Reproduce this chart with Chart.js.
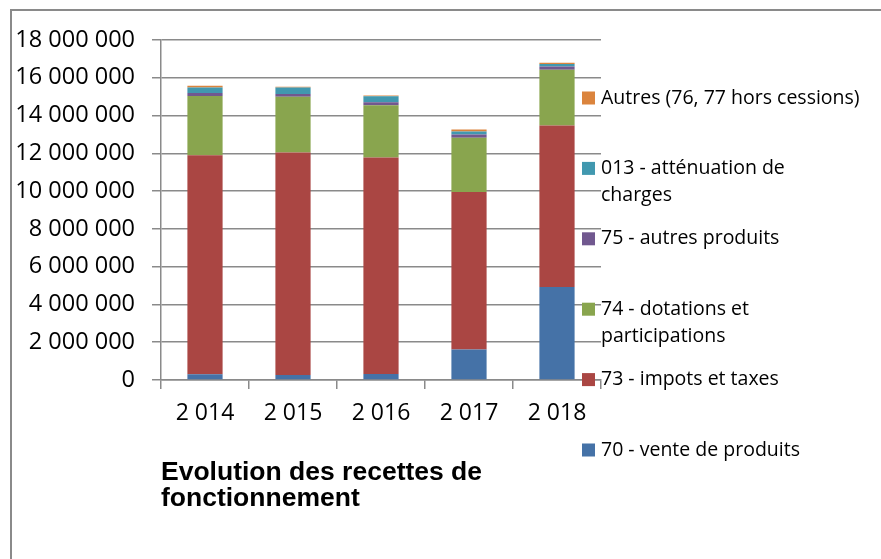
<!DOCTYPE html>
<html>
<head>
<meta charset="utf-8">
<script src="https://cdn.jsdelivr.net/npm/chart.js@4.4.1/dist/chart.umd.min.js"></script>
<style>
    html, body { margin: 0; padding: 0; background: #fff; overflow: hidden; }
    #wrap { position: relative; width: 881px; height: 559px; }
    #frame { position: absolute; left: 10px; top: 9px; width: 1000px; height: 1000px; border: 2px solid #8a8a8a; }
    #chart { position: absolute; left: 0; top: 0; }
</style>
</head>
<body>
<div id="wrap">
    <div id="frame"></div>
    <canvas id="chart" width="881" height="559"></canvas>
</div>
<script>
// Years and series (euros)
const years = ['2 014', '2 015', '2 016', '2 017', '2 018'];

const vente70 = [300000, 260000, 320000, 1620000, 4930000];
const impots73 = [11600000, 11780000, 11460000, 8330000, 8540000];
const dotations74 = [3140000, 2960000, 2760000, 2870000, 2960000];
const autresProduits75 = [160000, 140000, 160000, 180000, 170000];
const attenuation013 = [290000, 340000, 320000, 150000, 130000];
const autres7677 = [90000, 50000, 40000, 110000, 70000];

const seriesLabels = [
    ['70 - vente de produits'],
    ['73 - impots et taxes'],
    ['74 - dotations et', 'participations'],
    ['75 - autres produits'],
    ['013 - atténuation de', 'charges'],
    ['Autres (76, 77 hors cessions)']
];
const seriesColors = ['#4572A7', '#AA4643', '#89A54E', '#71588F', '#4198AF', '#DB843D'];

const yMax = 18000000;
const yStep = 2000000;
const chartTitle = ['Evolution des recettes de', 'fonctionnement'];

const gridColor = '#8a8a8a';

function fmtNum(v) {
    return String(v).replace(/\B(?=(\d{3})+(?!\d))/g, ' ');
}

// Legend on the right, reversed, with wrapped labels
const sideLegend = {
    id: 'sideLegend',
    afterDraw(chart) {
        const ctx = chart.ctx;
        const area = chart.chartArea;
        const n = chart.data.datasets.length;
        const x0 = area.right - 19;
        const y0 = area.top + 58;
        const slot = 70.4;
        ctx.save();
        ctx.font = '19.5px "Open Sans"';
        ctx.textBaseline = 'middle';
        ctx.textAlign = 'left';
        for (let i = n - 1; i >= 0; i--) {
            const ds = chart.data.datasets[i];
            const y = y0 + (n - 1 - i) * slot;
            ctx.fillStyle = ds.backgroundColor;
            ctx.fillRect(x0, y - 6.5, 13, 13);
            ctx.fillStyle = '#000';
            ds.legendLines.forEach((line, k) => {
                ctx.fillText(line, x0 + 19, y + k * 27.5);
            });
        }
        ctx.restore();
    }
};

// Title under the x axis, left aligned
const bottomTitle = {
    id: 'bottomTitle',
    afterDraw(chart) {
        const ctx = chart.ctx;
        const area = chart.chartArea;
        ctx.save();
        ctx.font = 'bold 26.5px "Liberation Sans"';
        ctx.fillStyle = '#000';
        ctx.textBaseline = 'middle';
        ctx.textAlign = 'left';
        chartTitle.forEach((line, k) => {
            ctx.fillText(line, area.left, area.bottom + 93 + k * 26);
        });
        ctx.restore();
    }
};

const seriesData = [vente70, impots73, dotations74, autresProduits75, attenuation013, autres7677];

const datasets = seriesData.map((data, i) => ({
    label: seriesLabels[i].join(' '),
    legendLines: seriesLabels[i],
    data: data,
    backgroundColor: seriesColors[i],
    borderWidth: 0,
    categoryPercentage: 1.0,
    barPercentage: 0.4
}));

new Chart(document.getElementById('chart'), {
    type: 'bar',
    data: { labels: years, datasets: datasets },
    options: {
        responsive: false,
        animation: false,
        layout: { padding: { left: 0, top: 40, right: 280, bottom: 0 } },
        plugins: {
            legend: { display: false },
            title: { display: false },
            tooltip: { enabled: false }
        },
        scales: {
            x: {
                stacked: true,
                grid: { drawOnChartArea: false, drawTicks: true, tickLength: 9, color: gridColor, lineWidth: 1.5 },
                border: { color: gridColor, width: 1.5 },
                ticks: { color: '#000', font: { family: 'Open Sans', size: 23 }, padding: 11, maxRotation: 0 },
                afterFit(scale) { scale.height = 179; }
            },
            y: {
                stacked: true,
                min: 0,
                max: yMax,
                grid: { color: gridColor, lineWidth: 1.5, tickLength: 9 },
                border: { color: gridColor, width: 1.5 },
                ticks: {
                    stepSize: yStep,
                    color: '#000',
                    font: { family: 'Open Sans', size: 23.5 },
                    padding: 17,
                    callback: v => fmtNum(v)
                },
                afterFit(scale) { scale.width = 161; }
            }
        }
    },
    plugins: [sideLegend, bottomTitle]
});
</script>
</body>
</html>
